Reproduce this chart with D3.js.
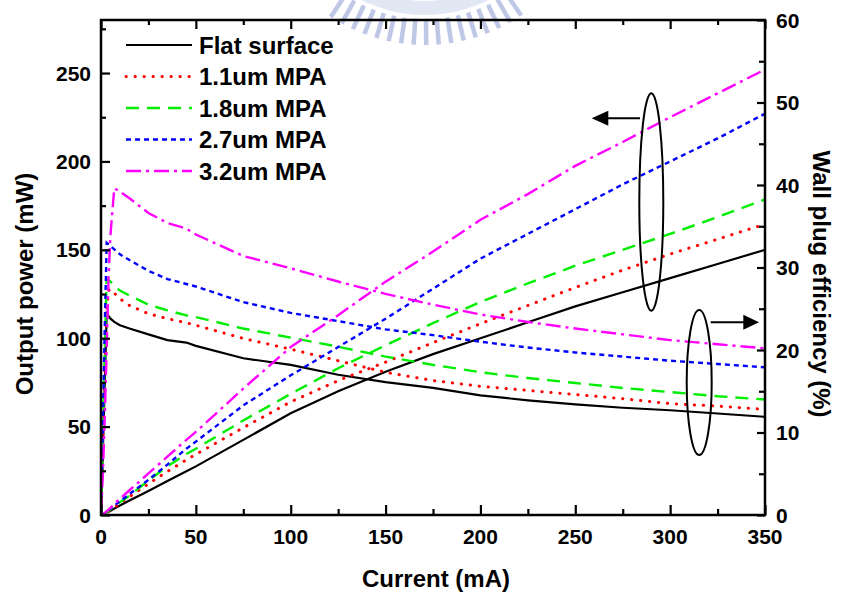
<!DOCTYPE html>
<html>
<head>
<meta charset="utf-8">
<script src="https://cdn.jsdelivr.net/npm/d3@7"></script>
<style>
  html, body { margin: 0; padding: 0; background: #fff; }
  svg { display: block; }
  text { font-family: "Liberation Sans", Arial, sans-serif; font-weight: bold; fill: #000; }
</style>
</head>
<body>
<svg id="chart" width="841" height="593"></svg>
<script>
// ---------------- data ----------------
const current = [0,1,2,3,4,5,7,10,15,25,35,45,50,75,100,125,150,175,200,225,250,275,300,325,350];

const seriesNames = ["Flat surface", "1.1um MPA", "1.8um MPA", "2.7um MPA", "3.2um MPA"];

// Output power (mW), left axis
const powerFlat = [0,0.3,0.8,1.3,1.8,2.4,3.6,5.4,8.2,13.6,19.2,24.8,27.5,42.5,57.5,70,81,91,100,109,118,126,134,142,150];
const power11   = [0,0.3,0.9,1.5,2.2,2.9,4.3,6.5,10.3,17.6,24.6,31.2,34.3,49.4,64,76,86.5,97.5,108.2,118.5,128.7,138.5,147.6,156,164.5];
const power18   = [0,0.3,0.9,1.6,2.4,3.2,4.8,7.2,11,19.5,27.5,34.5,37.5,53.5,68.5,83,96,108.5,120.5,131,141,150,159,168.5,178.5];
const power27   = [0,0.3,1,1.8,2.7,3.6,5.3,7.8,11.8,19.9,28.5,37.5,41.5,62,79,95,111,128,145,159,173,187,200,213,227];
const power32   = [0,0.4,1.2,2.1,3,4,6.2,9.2,14,23.5,33,42.5,47,71.5,95,113,132,149,167,181.5,197.5,211,225,238.5,252];

// Wall plug efficiency (%), right axis
const effFlat = [0,8,16,24.4,24.1,23.8,23.4,23.0,22.6,21.9,21.2,20.9,20.5,19.0,18.2,17.0,16.1,15.4,14.5,13.9,13.4,13.0,12.7,12.3,11.9];
const eff11   = [0,9,18,25,27.2,27.4,26.9,26.2,25.4,24.4,23.8,23.3,23.0,21.4,20.1,18.7,17.3,16.3,15.6,15.1,14.6,14.1,13.5,13.2,12.8];
const eff18   = [0,10,20,28.7,28.5,28.3,27.8,27.2,26.6,25.5,24.8,24.2,24.0,22.6,21.5,20.4,19.2,18.2,17.3,16.6,16.0,15.4,14.9,14.4,14.0];
const eff27   = [0,11,23,33.0,32.8,32.6,32.2,31.6,30.9,29.6,28.6,28.0,27.7,25.8,24.5,23.5,22.5,21.8,21.0,20.3,19.7,19.2,18.7,18.3,17.9];
const eff32   = [0,5,12,20,29,34,39.6,39.2,38.4,36.6,35.4,34.7,34.0,31.4,29.9,28.3,26.8,25.5,24.3,23.4,22.6,21.9,21.2,20.7,20.2];

const xTicks = [0,50,100,150,200,250,300,350];
const yLeftTicks = [0,50,100,150,200,250];
const yRightTicks = [0,10,20,30,40,50,60];

// ---------------- styles ----------------
const colors = ["#000000", "#ff0000", "#00ee00", "#0000ff", "#ff00ff"];
const dashes = [null, "0.3,8.7", "13,8", "5,4", "15,5,3,5"];
const widths = [2.2, 3, 2.4, 2.4, 2.4];

// ---------------- layout ----------------
const svg = d3.select("#chart");
const L = 101, R = 765, T = 20, B = 515;

const x = d3.scaleLinear().domain([0, 350]).range([L, R]);
const yL = d3.scaleLinear().domain([0, 280]).range([B, T]);
const yR = d3.scaleLinear().domain([0, 60]).range([B, T]);

// watermark (partial logo at top)
const wm = svg.append("g").attr("opacity", 0.4);
const wcx = 425, wcy = -127;
for (let a = 56; a <= 124; a += 4.2) {
  const r = a * Math.PI / 180;
  wm.append("line")
    .attr("x1", wcx + 146 * Math.cos(r)).attr("y1", wcy + 146 * Math.sin(r))
    .attr("x2", wcx + 172 * Math.cos(r)).attr("y2", wcy + 172 * Math.sin(r))
    .attr("stroke", "#5f74c0").attr("stroke-width", 4.5);
}
wm.append("path")
  .attr("d", d3.arc().innerRadius(128).outerRadius(142).startAngle(Math.PI/2 + 0.62).endAngle(Math.PI*1.5 - 0.62)())
  .attr("transform", `translate(${wcx},${wcy})`)
  .attr("fill", "#b9c4e6");

// clip
svg.append("clipPath").attr("id", "clip")
  .append("rect").attr("x", L).attr("y", T).attr("width", R - L).attr("height", B - T);

const plot = svg.append("g").attr("clip-path", "url(#clip)");

const powers = [powerFlat, power11, power18, power27, power32];
const effs = [effFlat, eff11, eff18, eff27, eff32];

const lineL = d3.line().x(d => x(d[0])).y(d => yL(d[1]));
const lineR = d3.line().x(d => x(d[0])).y(d => yR(d[1]));

for (let i = 0; i < 5; i++) {
  const pData = current.map((c, k) => [c, powers[i][k]]);
  const eData = current.map((c, k) => [c, effs[i][k]]);
  [[pData, lineL], [eData, lineR]].forEach(([data, gen]) => {
    plot.append("path")
      .attr("d", gen(data))
      .attr("fill", "none")
      .attr("stroke", colors[i])
      .attr("stroke-width", widths[i])
      .attr("stroke-dasharray", dashes[i])
      .attr("stroke-linecap", i === 1 ? "round" : "butt");
  });
}

// ---------------- axes ----------------
const axisW = 2.5;
function addAxis(axis, transform) {
  const g = svg.append("g").attr("transform", transform).call(axis);
  g.select(".domain").remove();
  g.selectAll(".tick line").attr("stroke", "#000").attr("stroke-width", 2.2);
  g.selectAll("text").remove();
  return g;
}
const x25 = d3.range(0, 351, 25);
addAxis(d3.axisBottom(x).tickValues(x25).tickSizeInner(-6).tickSizeOuter(0), `translate(0,${B})`)
  .selectAll(".tick line").attr("y2", d => d % 50 === 0 ? -10 : -6);
addAxis(d3.axisTop(x).tickValues(x25).tickSizeOuter(0), `translate(0,${T})`)
  .selectAll(".tick line").attr("y2", d => d % 50 === 0 ? 9 : 5);
addAxis(d3.axisLeft(yL).tickValues(d3.range(0, 276, 25)).tickSizeOuter(0), `translate(${L},0)`)
  .selectAll(".tick line").attr("x2", d => d % 50 === 0 ? 9 : 5);
addAxis(d3.axisRight(yR).tickValues(d3.range(0, 61, 5)).tickSizeOuter(0), `translate(${R},0)`)
  .selectAll(".tick line").attr("x2", d => d % 10 === 0 ? -8 : -6);

// frame
svg.append("rect").attr("x", L).attr("y", T).attr("width", R - L).attr("height", B - T)
  .attr("fill", "none").attr("stroke", "#000").attr("stroke-width", axisW);

// tick labels
const tickFont = 21;
svg.append("g").selectAll("text").data(xTicks).join("text")
  .attr("x", d => x(d)).attr("y", 544).attr("text-anchor", "middle")
  .style("font-size", tickFont + "px").text(d => d);
svg.append("g").selectAll("text").data(yLeftTicks).join("text")
  .attr("x", 91).attr("y", d => yL(d)).attr("dy", "0.36em").attr("text-anchor", "end")
  .style("font-size", tickFont + "px").text(d => d);
svg.append("g").selectAll("text").data(yRightTicks).join("text")
  .attr("x", 776).attr("y", d => yR(d)).attr("dy", "0.36em").attr("text-anchor", "start")
  .style("font-size", tickFont + "px").text(d => d);

// axis titles
svg.append("text").attr("x", 436).attr("y", 587).attr("text-anchor", "middle")
  .style("font-size", "24px").text("Current (mA)");
svg.append("text").attr("transform", "translate(33,284) rotate(-90)").attr("text-anchor", "middle")
  .style("font-size", "24px").text("Output power (mW)");
svg.append("text").attr("transform", "translate(813,284) rotate(90)").attr("text-anchor", "middle")
  .style("font-size", "24px").text("Wall plug efficiency (%)");

// legend
const legendY = [45, 76.5, 108, 139.5, 171];
const lg = svg.append("g");
seriesNames.forEach((name, i) => {
  lg.append("line").attr("x1", 126).attr("x2", 192).attr("y1", legendY[i]).attr("y2", legendY[i])
    .attr("stroke", colors[i]).attr("stroke-width", widths[i])
    .attr("stroke-dasharray", dashes[i])
    .attr("stroke-linecap", i === 1 ? "round" : "butt");
  lg.append("text").attr("x", 199).attr("y", legendY[i]).attr("dy", "0.36em")
    .style("font-size", "24px").text(name);
});

// annotations: ellipses and arrows
svg.append("ellipse").attr("cx", 651.3).attr("cy", 202).attr("rx", 12).attr("ry", 108.7)
  .attr("fill", "none").attr("stroke", "#000").attr("stroke-width", 2);
svg.append("ellipse").attr("cx", 699.2).attr("cy", 382.5).attr("rx", 12.5).attr("ry", 72.5)
  .attr("fill", "none").attr("stroke", "#000").attr("stroke-width", 2);

svg.append("line").attr("x1", 640).attr("x2", 606).attr("y1", 118.3).attr("y2", 118.3)
  .attr("stroke", "#000").attr("stroke-width", 2);
svg.append("path").attr("d", "M591.7,118.3 L608.3,110.8 L608.3,125.8 Z").attr("fill", "#000");
svg.append("line").attr("x1", 710.7).attr("x2", 745).attr("y1", 322.3).attr("y2", 322.3)
  .attr("stroke", "#000").attr("stroke-width", 2);
svg.append("path").attr("d", "M759,322.3 L743.3,314.8 L743.3,329.8 Z").attr("fill", "#000");
</script>
</body>
</html>
